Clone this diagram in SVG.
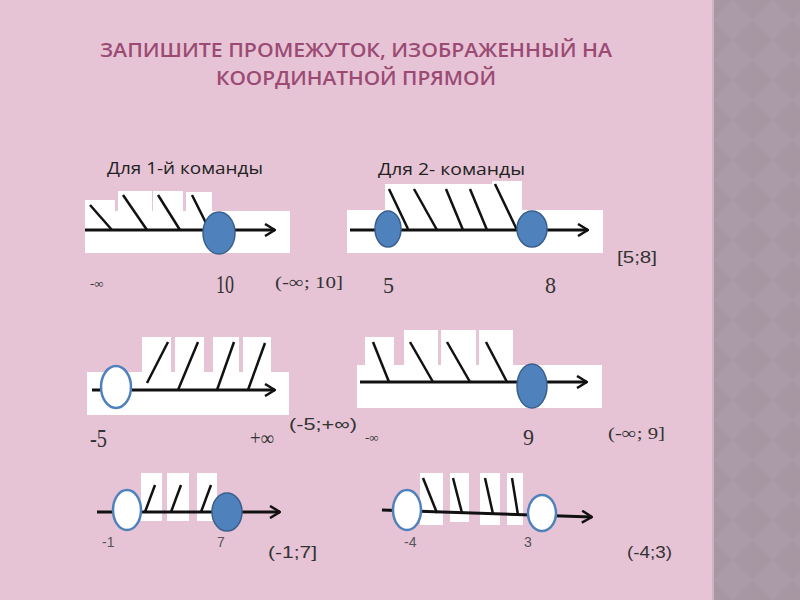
<svg xmlns="http://www.w3.org/2000/svg" width="800" height="600" viewBox="0 0 800 600">
<defs>
<style>
.bg{fill:#e6c4d5}
.title{font-family:"Open Sans","Liberation Sans",sans-serif;font-weight:600;font-size:20px;fill:#9b4a74;text-anchor:middle}
.team{font-family:"Open Sans","Liberation Sans",sans-serif;font-size:16px;fill:#222}
.box{fill:#ffffff}
.axis{stroke:#111;stroke-width:3;fill:none;marker-end:url(#arr)}
.hatch{stroke:#111;stroke-width:2.5;fill:none}
.full{fill:#4f81bd;stroke:#3a5f8c;stroke-width:1.5}
.open{fill:#ffffff;stroke:#4f81bd;stroke-width:2.5}
.ser{font-family:"Liberation Serif","DejaVu Serif",serif;fill:#333}
.sans{font-family:"Liberation Sans","Open Sans",sans-serif;fill:#333}
.small{font-family:"Liberation Sans","Open Sans",sans-serif;fill:#555}
</style>
<marker id="arr" viewBox="0 0 12 14" refX="11" refY="7" markerWidth="12" markerHeight="14" markerUnits="userSpaceOnUse" orient="auto">
<path d="M1,1 L11,7 L1,13" fill="none" stroke="#111" stroke-width="2.5"/>
</marker>
<pattern id="dia" width="40" height="40" patternUnits="userSpaceOnUse" x="713">
<rect width="40" height="40" fill="#a797a3"/>
<path d="M20,0 L40,20 L20,40 L0,20 Z" fill="#ab9ba8"/>
</pattern>
</defs>
<rect class="bg" width="800" height="600"/>
<g id="strip">
<rect x="713" y="0" width="87" height="600" fill="url(#dia)"/>
<rect x="712" y="0" width="2" height="600" fill="#cdb6c4"/>
</g>
<g id="title">
<text class="title" x="356" y="57" textLength="512" lengthAdjust="spacingAndGlyphs">ЗАПИШИТЕ ПРОМЕЖУТОК, ИЗОБРАЖЕННЫЙ НА</text>
<text class="title" x="356" y="85" textLength="280" lengthAdjust="spacingAndGlyphs">КООРДИНАТНОЙ ПРЯМОЙ</text>
</g>
<g id="heading1"><text class="team" x="107" y="174" textLength="156" lengthAdjust="spacingAndGlyphs">Для 1-й команды</text></g>
<g id="heading2"><text class="team" x="378" y="175" textLength="147" lengthAdjust="spacingAndGlyphs">Для 2- команды</text></g>

<g id="line1">
<rect class="box" x="85" y="211" width="205" height="42"/>
<rect class="box" x="85" y="200" width="30" height="12"/>
<rect class="box" x="118" y="191" width="34" height="21"/>
<rect class="box" x="153" y="191" width="30" height="21"/>
<rect class="box" x="186" y="192" width="26" height="20"/>
<line class="hatch" x1="90" y1="205" x2="112" y2="230"/>
<line class="hatch" x1="123" y1="195" x2="147" y2="230"/>
<line class="hatch" x1="158" y1="195" x2="180" y2="230"/>
<line class="hatch" x1="192" y1="195" x2="207" y2="225"/>
<line class="axis" x1="85" y1="230" x2="275" y2="230"/>
<ellipse class="full" cx="219" cy="233" rx="16" ry="21"/>
<text class="ser" x="90" y="288" font-size="13">-∞</text>
<text class="ser" x="216" y="293" font-size="26" textLength="18" lengthAdjust="spacingAndGlyphs">10</text>
<text class="ser" x="275" y="288" font-size="17" textLength="68" lengthAdjust="spacingAndGlyphs">(-∞; 10]</text>
</g>

<g id="line2">
<rect class="box" x="347" y="210" width="256" height="43"/>
<rect class="box" x="385" y="184" width="108" height="27"/>
<rect class="box" x="492" y="181" width="30" height="30"/>
<line class="hatch" x1="389" y1="189" x2="408" y2="229"/>
<line class="hatch" x1="414" y1="189" x2="437" y2="230"/>
<line class="hatch" x1="446" y1="189" x2="463" y2="230"/>
<line class="hatch" x1="470" y1="189" x2="487" y2="230"/>
<line class="hatch" x1="495" y1="184" x2="517" y2="230"/>
<line class="axis" x1="350" y1="230" x2="588" y2="230"/>
<ellipse class="full" cx="388" cy="229" rx="13" ry="18"/>
<ellipse class="full" cx="532" cy="229" rx="15" ry="18"/>
<text class="sans" x="617" y="263" font-size="17" textLength="40" lengthAdjust="spacingAndGlyphs">[5;8]</text>
<text class="ser" x="383" y="293" font-size="23" textLength="11" lengthAdjust="spacingAndGlyphs">5</text>
<text class="ser" x="545" y="293" font-size="23" textLength="11" lengthAdjust="spacingAndGlyphs">8</text>
</g>

<g id="line3">
<rect class="box" x="87" y="372" width="202" height="43"/>
<rect class="box" x="142" y="337" width="29" height="36"/>
<rect class="box" x="175" y="337" width="29" height="36"/>
<rect class="box" x="213" y="337" width="26" height="36"/>
<rect class="box" x="243" y="337" width="28" height="36"/>
<line class="hatch" x1="147" y1="383" x2="168" y2="342"/>
<line class="hatch" x1="178" y1="390" x2="198" y2="342"/>
<line class="hatch" x1="217" y1="390" x2="234" y2="342"/>
<line class="hatch" x1="248" y1="390" x2="265" y2="343"/>
<line class="axis" x1="92" y1="390" x2="275" y2="390"/>
<ellipse class="open" cx="116" cy="387" rx="15" ry="21"/>
<text class="ser" x="90" y="447" font-size="25" textLength="17" lengthAdjust="spacingAndGlyphs">-5</text>
<text class="ser" x="250" y="445" font-size="20" textLength="24" lengthAdjust="spacingAndGlyphs">+∞</text>
<text class="sans" x="289" y="430" font-size="17" textLength="68" lengthAdjust="spacingAndGlyphs">(-5;+∞)</text>
</g>

<g id="line4">
<rect class="box" x="357" y="365" width="245" height="43"/>
<rect class="box" x="365" y="337" width="29" height="29"/>
<rect class="box" x="404" y="330" width="34" height="36"/>
<rect class="box" x="441" y="330" width="35" height="36"/>
<rect class="box" x="479" y="330" width="34" height="36"/>
<line class="hatch" x1="373" y1="342" x2="389" y2="382"/>
<line class="hatch" x1="410" y1="342" x2="433" y2="382"/>
<line class="hatch" x1="447" y1="342" x2="470" y2="382"/>
<line class="hatch" x1="486" y1="342" x2="507" y2="382"/>
<line class="axis" x1="360" y1="382" x2="587" y2="382"/>
<ellipse class="full" cx="532" cy="386" rx="15" ry="22"/>
<text class="ser" x="365" y="442" font-size="13">-∞</text>
<text class="ser" x="523" y="445" font-size="23" textLength="11" lengthAdjust="spacingAndGlyphs">9</text>
<text class="ser" x="608" y="439" font-size="17" textLength="57" lengthAdjust="spacingAndGlyphs">(-∞; 9]</text>
</g>

<g id="line5">
<rect class="box" x="141" y="473" width="21" height="48"/>
<rect class="box" x="167" y="473" width="22" height="48"/>
<rect class="box" x="197" y="473" width="20" height="48"/>
<line class="hatch" x1="145" y1="512" x2="155" y2="485"/>
<line class="hatch" x1="171" y1="512" x2="181" y2="485"/>
<line class="hatch" x1="201" y1="512" x2="211" y2="485"/>
<line class="axis" x1="97" y1="512" x2="280" y2="512"/>
<ellipse class="open" cx="127" cy="510" rx="14" ry="20"/>
<ellipse class="full" cx="227" cy="512" rx="15" ry="19"/>
<text class="small" x="102" y="547" font-size="14">-1</text>
<text class="small" x="217" y="547" font-size="14">7</text>
<text class="sans" x="268" y="558" font-size="17" textLength="49" lengthAdjust="spacingAndGlyphs">(-1;7]</text>
</g>

<g id="line6">
<rect class="box" x="420" y="473" width="23" height="52"/>
<rect class="box" x="450" y="473" width="19" height="49"/>
<rect class="box" x="480" y="473" width="20" height="52"/>
<rect class="box" x="507" y="473" width="16" height="52"/>
<line class="hatch" x1="423" y1="478" x2="437" y2="513"/>
<line class="hatch" x1="453" y1="478" x2="462" y2="513"/>
<line class="hatch" x1="485" y1="478" x2="493" y2="514"/>
<line class="hatch" x1="512" y1="478" x2="518" y2="515"/>
<line class="axis" x1="382" y1="510" x2="592" y2="517"/>
<ellipse class="open" cx="407" cy="510" rx="14" ry="20"/>
<ellipse class="open" cx="542" cy="513" rx="14" ry="18"/>
<text class="small" x="404" y="547" font-size="14">-4</text>
<text class="small" x="524" y="547" font-size="14">3</text>
<text class="sans" x="627" y="558" font-size="17" textLength="45" lengthAdjust="spacingAndGlyphs">(-4;3)</text>
</g>
</svg>
